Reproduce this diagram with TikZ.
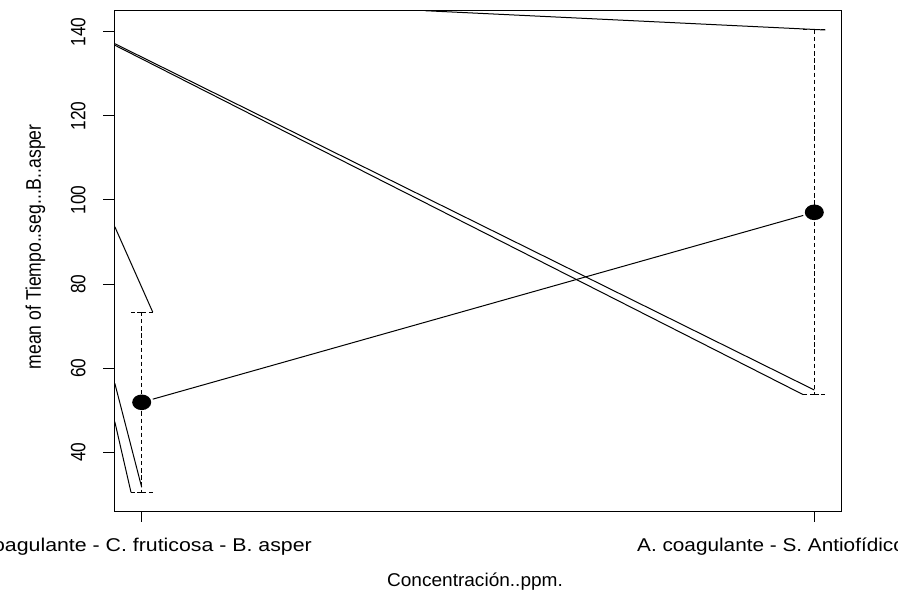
\documentclass[tikz,border=0pt]{standalone}
\usepackage{fontspec}
\setmainfont{Liberation Sans}
\usetikzlibrary{calc}
\begin{document}
\begin{tikzpicture}[x=1pt,y=-1pt,
  frame/.style={line width=1pt, draw=black},
  dataline/.style={line width=1pt, draw=black, line cap=butt},
  errbar/.style={line width=1pt, draw=black, dash pattern=on 4.3pt off 2.8pt},
  tick/.style={line width=1pt, draw=black},
  ticklab/.style={inner sep=0pt, font=\fontsize{17.3}{20}\selectfont},
  xlab/.style={inner sep=0pt, font=\fontsize{18.5}{21}\selectfont},
  axlab/.style={inner sep=0pt, font=\fontsize{17.6}{20}\selectfont}]
\useasboundingbox (0,0) rectangle (898,591);
\clip (0,0) rectangle (898,591);
% plot region corners
\coordinate (BL) at (114.8,511.7);
\coordinate (TR) at (841.2,10.7);
% means and error bar ends
\coordinate (Lm) at (141.7,402.3);
\coordinate (Rm) at (814.3,212.3);
\coordinate (Lu) at (141.7,312);
\coordinate (Ll) at (141.7,492.3);
\coordinate (Ru) at (814.3,30);
\coordinate (Rl) at (814.3,394.7);
\coordinate (LuA) at (131,312);  \coordinate (LuB) at (152.7,312);
\coordinate (LlA) at (131,492.3);\coordinate (LlB) at (152.7,492.3);
\coordinate (RuA) at (803.3,30); \coordinate (RuB) at (825.3,30);
\coordinate (RlA) at (803.3,394.7); \coordinate (RlB) at (825.3,394.7);
% stray segment ends on the frame
\coordinate (t0) at (425,10.7);
\coordinate (a0) at (114.8,43.7);
\coordinate (b0) at (114.8,45.2);
\coordinate (c0) at (114.8,226.7);
\coordinate (d0) at (114.8,383.3);
\coordinate (e0) at (114.8,421.7);
\coordinate (Lin) at (141.7,487.3);
\coordinate (Rin) at (814.3,390);
% frame
\draw[frame] (BL) rectangle (TR);
% y axis ticks and labels
\foreach \v/\yy in {140/32,120/116,100/200,80/284,60/368,40/452}{
  \coordinate (yt\v) at (114.8,\yy);
  \coordinate (yo\v) at (103,\yy);
  \draw[tick] (yt\v) -- (yo\v);
  \node[ticklab, rotate=90] (yl\v) at (78.3,\yy) {\scalebox{1}[1.2]{\v}};
}
% x axis ticks
\coordinate (xt1) at (141.7,511.7); \coordinate (xo1) at (141.7,521.5);
\coordinate (xt2) at (814.3,511.7); \coordinate (xo2) at (814.3,521.5);
\draw[tick] (xt1) -- (xo1);
\draw[tick] (xt2) -- (xo2);
% x tick labels
\node[xlab, anchor=base east] (xl1) at (312,551)
  {\scalebox{1.152}[1]{A. coagulante - C. fruticosa - B. asper}};
\node[xlab, anchor=base west] (xl2) at (637,551)
  {\scalebox{1.122}[1]{A. coagulante - S. Antiofídico - B. asper}};
% axis titles
\node[xlab, anchor=base] (xtitle) at (475,586)
  {\scalebox{1.03}[1]{Concentración..ppm.}};
\node[axlab, rotate=90, anchor=base] (ytitle) at (41,247)
  {\scalebox{1}[1.2]{mean of Tiempo..seg...B..asper}};
% error bars
\draw[errbar] (Lu) -- (Ll);
\draw[errbar] (Ru) -- (Rl);
\foreach \c/\e in {Lu/LuA,Lu/LuB,Ll/LlA,Ll/LlB,Ru/RuA,Ru/RuB,Rl/RlA,Rl/RlB}{
  \draw[errbar] (\c) -- (\e);
}
% stray segments
\draw[dataline] (t0) -- (RuB);
\draw[dataline] (a0) -- (Rin);
\draw[dataline] (b0) -- (RlA);
\draw[dataline] (c0) -- (LuB);
\draw[dataline] (d0) -- (Lin);
\draw[dataline] (e0) -- (LlA);
% mean line and points
\draw[dataline, shorten <=11.5pt, shorten >=11.5pt] (Lm) -- (Rm);
\fill[black] (Lm) ellipse [x radius=9.5pt, y radius=7.8pt];
\fill[black] (Rm) ellipse [x radius=9.5pt, y radius=7.8pt];
\end{tikzpicture}
\end{document}
